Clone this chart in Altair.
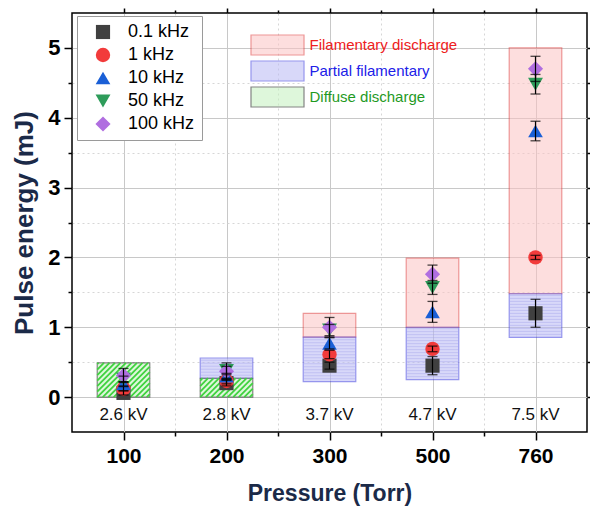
import altair as alt
import pandas as pd

# ---------------- data ----------------
pressures = ["100", "200", "300", "500", "760"]
voltages = ["2.6 kV", "2.8 kV", "3.7 kV", "4.7 kV", "7.5 kV"]
freqs = ["0.1 kHz", "1 kHz", "10 kHz", "50 kHz", "100 kHz"]

e_0p1 = [0.06, 0.20, 0.45, 0.45, 1.20]
e_1 = [0.12, 0.23, 0.61, 0.69, 2.00]
e_10 = [0.19, 0.30, 0.77, 1.22, 3.81]
e_50 = [0.26, 0.38, 0.96, 1.57, 4.48]
e_100 = [0.31, 0.37, 1.00, 1.76, 4.70]

err_0p1 = [0.03, 0.04, 0.05, 0.13, 0.20]
err_1 = [0.03, 0.04, 0.06, 0.04, 0.03]
err_10 = [0.03, 0.04, 0.08, 0.15, 0.14]
err_50 = [0.04, 0.06, 0.08, 0.10, 0.14]
err_100 = [0.10, 0.12, 0.14, 0.13, 0.18]

region_names = ["Filamentary discharge", "Partial filamentary", "Diffuse discharge"]
fil_p = ["300", "500", "760"]
fil_lo = [0.86, 1.00, 1.48]
fil_hi = [1.20, 1.99, 5.00]
par_p = ["200", "300", "500", "760"]
par_lo = [0.27, 0.22, 0.25, 0.855]
par_hi = [0.56, 0.86, 1.00, 1.48]
dif_p = ["100", "200"]
dif_lo = [0.0, 0.0]
dif_hi = [0.49, 0.27]

# ---------------- tables ----------------
series = [e_0p1, e_1, e_10, e_50, e_100]
errors = [err_0p1, err_1, err_10, err_50, err_100]
pts = []
for f, vals, errs in zip(freqs, series, errors):
    for i, (v, e) in enumerate(zip(vals, errs)):
        pts.append({"idx": i + 1, "freq": f, "val": v, "lo": v - e, "hi": v + e})
pts_df = pd.DataFrame(pts)

def region_rows(name, ps, los, his):
    return [{"region": name, "idx": pressures.index(p) + 1, "lo": lo, "hi": hi}
            for p, lo, hi in zip(ps, los, his)]

reg_df = pd.DataFrame(
    region_rows(region_names[0], fil_p, fil_lo, fil_hi)
    + region_rows(region_names[1], par_p, par_lo, par_hi)
    + region_rows(region_names[2], dif_p, dif_lo, dif_hi)
)
par_df = reg_df[reg_df.region == region_names[1]]
dif_df = reg_df[reg_df.region == region_names[2]]
volt_df = pd.DataFrame({"idx": list(range(1, 6)), "volt": voltages})

# ---------------- layout / style ----------------
W, H = 515, 419
XDOM = [0.5, 5.5]
YDOM = [-0.5, 5.5]
SX = W / (XDOM[1] - XDOM[0])
SY = H / (YDOM[1] - YDOM[0])
HW = 0.255          # half width of the region boxes (x units)
D = 5.5             # hatch spacing (px)
L = 3.0             # horizontal line spacing (px)
FONT = "Liberation Sans"
NAVY = "#1b2a48"

xs = alt.Scale(domain=XDOM, nice=False, zero=False)
ys = alt.Scale(domain=YDOM, nice=False, zero=False)

is_int = "datum.value % 1 == 0"
lbl_expr = "datum.value % 1 == 0 ? " + str(pressures) + "[datum.value - 1] : ''"

x_bottom = alt.Axis(
    values=[1, 1.5, 2, 2.5, 3, 3.5, 4, 4.5, 5],
    labelExpr=lbl_expr, title="Pressure (Torr)", titleFontSize=23, titleFontWeight="bold",
    titleColor=NAVY, titleFont=FONT, titlePadding=16, labelFont=FONT, labelFontSize=21,
    labelFontWeight="bold", labelColor="black", labelPadding=5, domain=False,
    tickColor="black", tickWidth=1.5,
    tickSize={"condition": {"test": is_int, "value": 8}, "value": 4},
    grid=True, gridWidth=1,
    gridColor={"condition": {"test": is_int, "value": "#c8c8c8"}, "value": "#d6d6d6"},
    gridDash={"condition": {"test": is_int, "value": []}, "value": [2, 3]},
)
y_left = alt.Axis(
    values=[0, 0.5, 1, 1.5, 2, 2.5, 3, 3.5, 4, 4.5, 5],
    labelExpr="datum.value % 1 == 0 ? '' + datum.value : ''",
    title="Pulse energy (mJ)", titleFontSize=26, titleFontWeight="bold", titleColor=NAVY,
    titleFont=FONT, titlePadding=10, labelFont=FONT, labelFontSize=22, labelFontWeight="bold",
    labelColor="black", labelPadding=4, domain=False, tickColor="black", tickWidth=1.5,
    tickSize={"condition": {"test": is_int, "value": 8}, "value": 4},
    grid=True, gridWidth=1,
    gridColor={"condition": {"test": is_int, "value": "#c8c8c8"}, "value": "#d6d6d6"},
    gridDash={"condition": {"test": is_int, "value": []}, "value": [2, 3]},
)
x_top = alt.Axis(orient="top", values=[1, 1.5, 2, 2.5, 3, 3.5, 4, 4.5, 5], labels=False,
                 title=None, domain=False, grid=False, tickColor="black", tickWidth=1.5,
                 tickSize={"condition": {"test": is_int, "value": 5}, "value": 3})
y_right = alt.Axis(orient="right", values=[0, 0.5, 1, 1.5, 2, 2.5, 3, 3.5, 4, 4.5, 5],
                   labels=False, title=None, domain=False, grid=False, tickColor="black",
                   tickWidth=1.5,
                   tickSize={"condition": {"test": is_int, "value": 5}, "value": 3})

label_color_expr = (
    "datum.label == '" + region_names[0] + "' ? '#ee2020' : datum.label == '"
    + region_names[1] + "' ? '#2020e8' : '#1f9a1f'"
)
region_legend = alt.Legend(
    title=None, orient="none", legendX=178, legendY=21,
    symbolType="M-2.65,-1L2.65,-1L2.65,1L-2.65,1Z", symbolSize=400, symbolStrokeWidth=1.2,
    symbolOffset=16.5, labelOffset=21, labelFont=FONT, labelFontSize=15, rowPadding=0,
    padding=0, labelColor=alt.ExprRef(expr=label_color_expr),
)
freq_legend = alt.Legend(
    title=None, orient="none", legendX=5, legendY=3, strokeColor="#9a9a9a",
    fillColor="white", padding=7, labelFont=FONT, labelFontSize=18, labelColor="black",
    symbolStrokeWidth=0, rowPadding=5, symbolOffset=10, labelOffset=16, symbolOpacity=1,
)

# ---------------- layers ----------------
rects = alt.Chart(reg_df).transform_calculate(
    x0=f"datum.idx - {HW}"
).transform_calculate(
    x1=f"datum.idx + {HW}"
).mark_rect(strokeWidth=1.2, opacity=0.55).encode(
    x=alt.X("x0:Q", scale=xs, axis=x_bottom),
    x2="x1:Q",
    y=alt.Y("lo:Q", scale=ys, axis=y_left),
    y2="hi:Q",
    fill=alt.Fill("region:N", scale=alt.Scale(domain=region_names,
                  range=["#fcc4c4", "#babaf5", "#c4f2be"]), legend=region_legend),
    stroke=alt.Stroke("region:N", scale=alt.Scale(domain=region_names,
                      range=["#e04040", "#4040e0", "#202020"]), legend=region_legend),
)

blue_lines = alt.Chart(par_df).transform_calculate(
    h=f"(datum.hi - datum.lo) * {SY}"
).transform_calculate(
    k=f"sequence(1, ceil(datum.h / {L}))"
).transform_flatten(["k"]).transform_calculate(
    yy=f"datum.lo + datum.k * {L} / {SY}"
).transform_calculate(
    x0=f"datum.idx - {HW}"
).transform_calculate(
    x1=f"datum.idx + {HW}"
).mark_rule(color="#a2a2ea", strokeWidth=0.6, opacity=0.7).encode(
    x=alt.X("x0:Q", scale=xs, axis=None), x2="x1:Q",
    y=alt.Y("yy:Q", scale=ys, axis=None),
)

hatch = alt.Chart(dif_df).transform_calculate(
    x0=f"datum.idx - {HW}"
).transform_calculate(
    w=f"{2 * HW * SX}"
).transform_calculate(
    h=f"(datum.hi - datum.lo) * {SY}"
).transform_calculate(
    k=f"sequence(-ceil(datum.h / {D}), ceil(datum.w / {D}) + 1)"
).transform_flatten(["k"]).transform_calculate(
    c=f"datum.k * {D}"
).transform_calculate(
    ax="max(datum.c, 0)"
).transform_calculate(
    ay="max(-datum.c, 0)"
).transform_calculate(
    bx="min(datum.c + datum.h, datum.w)"
).transform_calculate(
    by="datum.bx - datum.c"
).transform_filter(
    "datum.ax < datum.w && datum.ay < datum.h"
).transform_calculate(
    xa=f"datum.x0 + datum.ax / {SX}"
).transform_calculate(
    ya=f"datum.lo + datum.ay / {SY}"
).transform_calculate(
    xb=f"datum.x0 + datum.bx / {SX}"
).transform_calculate(
    yb=f"datum.lo + datum.by / {SY}"
).mark_rule(color="#3fd23f", strokeWidth=1.8).encode(
    x=alt.X("xa:Q", scale=xs, axis=None), x2="xb:Q",
    y=alt.Y("ya:Q", scale=ys, axis=None), y2="yb:Q",
)

volt_text = alt.Chart(volt_df).mark_text(font=FONT, fontSize=17, color="#111111").encode(
    x=alt.X("idx:Q", scale=xs, axis=None),
    y=alt.value(H - 17),
    text="volt:N",
)

points = alt.Chart(pts_df).mark_point(filled=True, opacity=1).encode(
    x=alt.X("idx:Q", scale=xs, axis=None),
    y=alt.Y("val:Q", scale=ys, axis=None),
    color=alt.Color("freq:N", scale=alt.Scale(domain=freqs,
                    range=["#404040", "#f23b3b", "#1a5fd6", "#2e9c5a", "#b06ee0"]),
                    legend=freq_legend),
    shape=alt.Shape("freq:N", scale=alt.Scale(domain=freqs,
                    range=["square", "circle", "triangle-up", "triangle-down", "diamond"]),
                    legend=freq_legend),
    size=alt.Size("freq:N", scale=alt.Scale(domain=freqs, range=[200, 230, 330, 330, 420]),
                  legend=freq_legend),
)

err_rules = alt.Chart(pts_df).mark_rule(color="black", strokeWidth=1.2).encode(
    x=alt.X("idx:Q", scale=xs, axis=x_top),
    y=alt.Y("lo:Q", scale=ys, axis=y_right),
    y2="hi:Q",
)
cap_lo = alt.Chart(pts_df).mark_tick(color="black", size=10, thickness=1.3,
                                     orient="horizontal").encode(
    x=alt.X("idx:Q", scale=xs, axis=None),
    y=alt.Y("lo:Q", scale=ys, axis=None),
)
cap_hi = alt.Chart(pts_df).mark_tick(color="black", size=10, thickness=1.3,
                                     orient="horizontal").encode(
    x=alt.X("idx:Q", scale=xs, axis=None),
    y=alt.Y("hi:Q", scale=ys, axis=None),
)

chart = alt.layer(
    rects, blue_lines, hatch, volt_text, points, err_rules, cap_lo, cap_hi
).resolve_axis(
    x="independent", y="independent"
).properties(
    width=W, height=H,
    autosize=alt.AutoSizeParams(type="none"),
    padding={"left": 72, "top": 13, "right": 3, "bottom": 76},
    background="white",
).configure(
    font=FONT
).configure_view(
    stroke="black", strokeWidth=1.5
)

chart.save("out.html", embed_options={"renderer": "svg", "actions": False})
